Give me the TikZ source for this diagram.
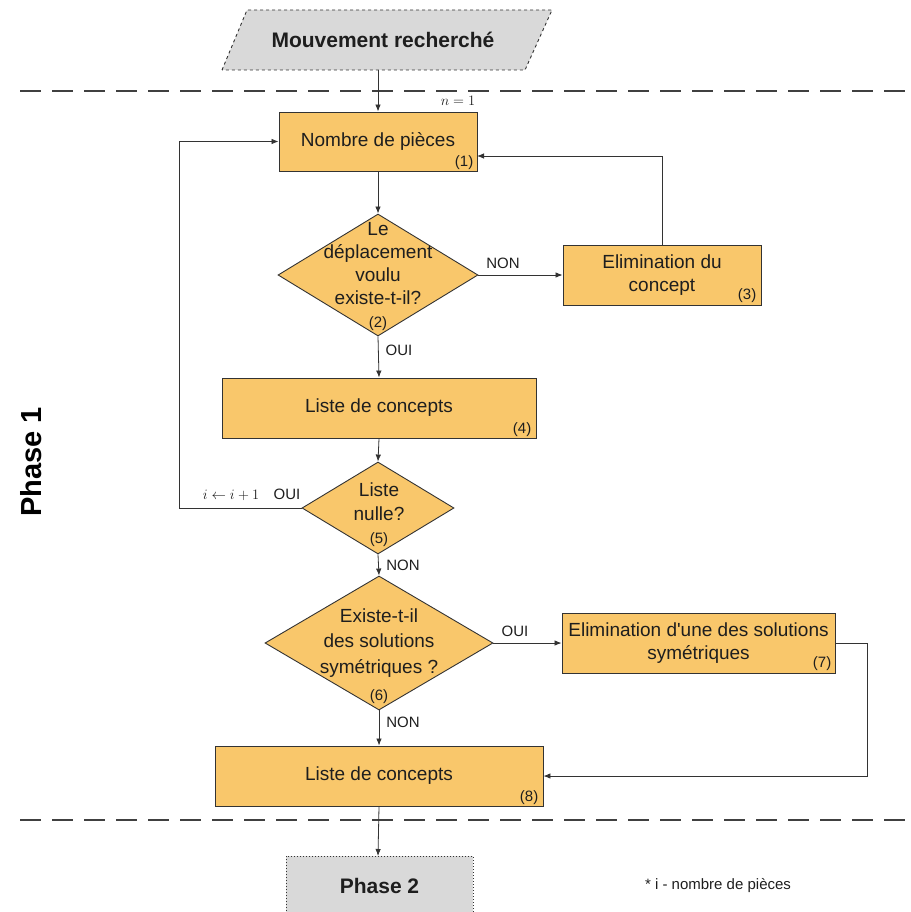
\documentclass[tikz,border=0pt]{standalone}
\usepackage{fontspec}
\setmainfont{Liberation Sans}
\newfontfamily\rawsans{Liberation Sans}
\usetikzlibrary{shapes.geometric,arrows.meta}
\definecolor{boxfill}{HTML}{F9C76B}
\definecolor{grayfill}{HTML}{D9D9D9}
\definecolor{linec}{HTML}{333333}
\definecolor{txtc}{HTML}{1E1E1E}
\tikzset{
  procbox/.style={draw=linec, line width=0.9pt, fill=boxfill, inner sep=0pt, align=center,
    text=txtc, font=\fontsize{19}{22.5}\selectfont},
  dia/.style={draw=linec, line width=0.9pt, fill=boxfill, diamond, inner sep=0pt},
  diatext/.style={align=center, text=txtc, inner sep=0pt, font=\fontsize{19}{23}\selectfont},
  numlbl/.style={text=txtc, inner sep=0pt, font=\fontsize{15}{17}\selectfont},
  edgelbl/.style={text=txtc, inner sep=0pt, font=\fontsize{15}{17}\selectfont},
  arr/.style={draw=linec, line width=0.8pt, -{Latex[length=7pt,width=5.5pt]}},
  sepline/.style={draw=black!75, line width=1.2pt, dash pattern=on 21pt off 11pt},
  boldtxt/.style={text=txtc, font=\bfseries\fontsize{21}{25}\selectfont},
}
\newcommand{\smallnum}[1]{{\fontsize{15}{17}\selectfont #1}}
\begin{document}
\begin{tikzpicture}[x=1pt,y=-1pt]
\useasboundingbox (0,0) rectangle (910,912);

% top input
\draw[dashed, draw=black!80, line width=0.9pt, fill=grayfill] (222,70) -- (247,10) -- (552,10) -- (525,70) -- cycle;
\node[boldtxt] (mv) at (383,40) {Mouvement recherché};
\coordinate (mvb) at (378,70);

% separators
\draw[sepline] (20,91) -- (908,91);
\draw[sepline] (20,820) -- (908,820);

% phase 1 label
\node[rotate=90, text=black, font=\bfseries\fontsize{29}{34}\selectfont] (ph1) at (31,462) {Phase 1};

% boxes
\node[procbox, minimum width=198pt, minimum height=59pt] (n1) at (378,141.5) {Nombre de pièces};
\node[numlbl, anchor=south east] (n1num) at ([xshift=-4pt,yshift=2pt]n1.south east) {(1)};

\node[procbox, minimum width=198pt, minimum height=60pt] (n3) at (662,275) {Elimination du\\concept};
\node[numlbl, anchor=south east] (n3num) at ([xshift=-5pt,yshift=3pt]n3.south east) {(3)};

\node[procbox, minimum width=314pt, minimum height=60pt] (n4) at (379,408) {Liste de concepts};
\node[numlbl, anchor=south east] (n4num) at ([xshift=-5pt,yshift=2pt]n4.south east) {(4)};

\node[procbox, minimum width=273pt, minimum height=60pt] (n7) at (698.5,643) {Elimination d{\rawsans '}une des solutions\\symétriques};
\node[numlbl, anchor=south east] (n7num) at ([xshift=-4pt,yshift=3pt]n7.south east) {(7)};

\node[procbox, minimum width=328pt, minimum height=60pt] (n8) at (379,776) {Liste de concepts};
\node[numlbl, anchor=south east] (n8num) at ([xshift=-5pt,yshift=2pt]n8.south east) {(8)};

% diamonds
\node[dia, minimum width=200pt, minimum height=122pt] (d2) at (378,275) {};
\node[diatext] (d2t) at (378,277) {Le\\déplacement\\voulu\\existe-t-il?\\\smallnum{(2)}};

\node[dia, minimum width=152pt, minimum height=92pt] (d5) at (378,508) {};
\node[diatext, font=\fontsize{19}{23.5}\selectfont] (d5t) at (379,515) {Liste\\nulle?\\\smallnum{(5)}};

\node[dia, minimum width=228pt, minimum height=134pt] (d6) at (379,643) {};
\node[diatext, font=\fontsize{19}{25.5}\selectfont] (d6t) at (379,656) {Existe-t-il\\des solutions\\symétriques ?\\[2pt]\smallnum{(6)}};

% phase 2
\draw[dotted, draw=black!80, line width=1pt, fill=grayfill] (286,856) rectangle (473,918);
\node[boldtxt] (ph2) at (379.5,886) {Phase 2};
\coordinate (ph2top) at (378,856);

% footnote
\node[text=txtc, font=\fontsize{15}{17}\selectfont] (fn) at (718,886) {* i - nombre de pièces};

% math labels
\node[text=txtc, font=\fontsize{14}{16}\selectfont, inner sep=0pt] (neq) at (458,101) {$n=1$};
\node[text=txtc, font=\fontsize{15}{17}\selectfont, inner sep=0pt] (inc) at (231,495) {$i\leftarrow i+1$};

% connectors
\draw[arr] (mvb) -- (n1.north);
\draw[arr] (n1.south) -- (d2.north);
\draw[arr] (d2.east) -- (n3.west);
\node[edgelbl] (l1) at (503,263) {NON};
\coordinate (n1in) at (477,156);
\draw[arr] (n3.north) |- (n1in);
\draw[arr] (d2.south) -- (n4.north);
\node[edgelbl] (l2) at (399,350) {OUI};
\draw[arr] (n4.south) -- (d5.north);
\coordinate (lp) at (179,508);
\draw[arr] (d5.west) -- (lp) |- (n1.west);
\node[edgelbl] (l3) at (287,494) {OUI};
\draw[arr] (d5.south) -- (d6.north);
\node[edgelbl] (l4) at (403,565) {NON};
\draw[arr] (d6.east) -- (n7.west);
\node[edgelbl] (l5) at (515,631) {OUI};
\coordinate (rp) at (867,643);
\draw[arr] (n7.east) -- (rp) |- (n8.east);
\draw[arr] (d6.south) -- (n8.north);
\node[edgelbl] (l6) at (403,722) {NON};
\draw[arr] (n8.south) -- (ph2top);
\end{tikzpicture}
\end{document}
